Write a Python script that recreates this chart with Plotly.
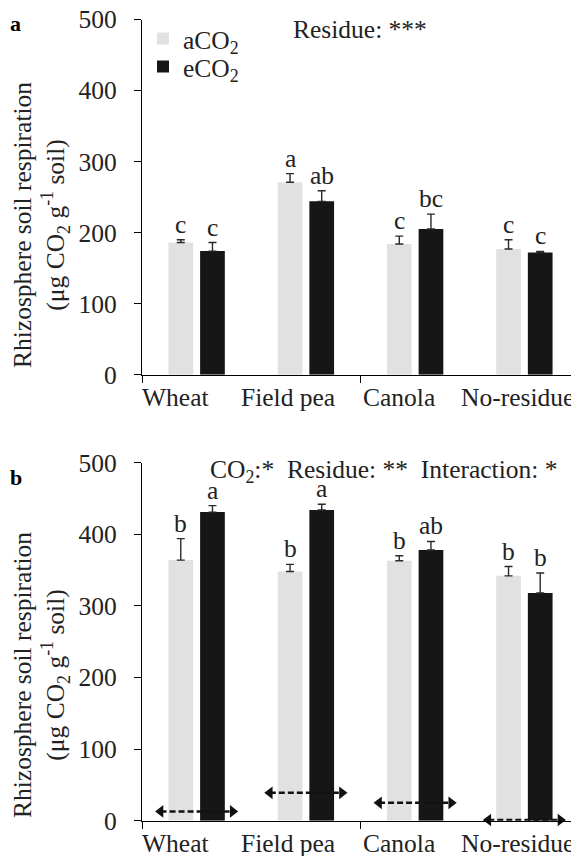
import plotly.graph_objects as go

categories = ["Wheat", "Field pea", "Canola", "No-residue"]
series_names = ["aCO<sub>2</sub>", "eCO<sub>2</sub>"]

# Panel a
a_aco2 = [186, 271, 184, 177]
a_aco2_err = [4, 12, 11, 13]
a_eco2 = [174, 244, 205, 172]
a_eco2_err = [12, 15, 21, 1.5]
a_aco2_letters = ["c", "a", "c", "c"]
a_eco2_letters = ["c", "ab", "bc", "c"]

# Panel b
b_aco2 = [364, 348, 363, 342]
b_aco2_err = [30, 10, 7, 13]
b_eco2 = [431, 434, 378, 318]
b_eco2_err = [9, 8, 12, 28]
b_aco2_letters = ["b", "b", "b", "b"]
b_eco2_letters = ["a", "a", "ab", "b"]
b_arrows = [13, 39, 25, 1]

y_ticks = [0, 100, 200, 300, 400, 500]

FONT = "Liberation Serif"
FS = 25.5
TXT = "#222222"
LIGHT = "#e1e1e1"
DARK = "#161616"
PAGE_OFF = 8            # default page body margin
W, H = 579 - PAGE_OFF, 856 - PAGE_OFF

def px(x):
    return (x - PAGE_OFF) / W

def py(y):
    return 1 - (y - PAGE_OFF) / H

BARGAP = 0.42
BARGROUPGAP = 0.22
slot = (1 - BARGAP) / 2
offs = [-slot / 2, slot / 2]
# horizontal placement of category labels relative to category centre (style)
label_shift = [-0.19, -0.16, -0.15, 0.0]

xpos = list(range(len(categories)))

fig = go.Figure()

def add_panel(xa, ya, aco2, aco2e, eco2, eco2e, show):
    for k, (vals, errs, col, name) in enumerate([(aco2, aco2e, LIGHT, series_names[0]),
                                                 (eco2, eco2e, DARK, series_names[1])]):
        fig.add_trace(go.Bar(
            x=xpos, y=vals, name=name, marker=dict(color=col, line=dict(width=0)),
            error_y=dict(type="data", array=errs, arrayminus=[0] * len(errs),
                         symmetric=False, color="#2a2a2a", thickness=1.4, width=4),
            xaxis=xa, yaxis=ya, showlegend=show,
            legend="legend" if k == 0 else "legend2"))

add_panel("x", "y", a_aco2, a_aco2_err, a_eco2, a_eco2_err, True)
add_panel("x2", "y2", b_aco2, b_aco2_err, b_eco2, b_eco2_err, False)

# dashed double arrows in panel b
for i, h in enumerate(b_arrows):
    fig.add_trace(go.Scatter(
        x=[i - 0.33, i + 0.33], y=[h, h], mode="lines+markers",
        line=dict(color="#111111", width=2.5, dash="6px,3px"),
        marker=dict(symbol=["triangle-left", "triangle-right"], size=11, color="#111111"),
        xaxis="x2", yaxis="y2", showlegend=False, hoverinfo="skip", cliponaxis=False))

x0, x1 = px(142), 1.0
dom_a = [py(374.7), py(19.5)]
dom_b = [py(820.7), py(462.7)]

xcommon = dict(range=[-0.5, 3.5], tickmode="array", tickvals=xpos,
               showticklabels=False, automargin=False,
               showline=True, linecolor="black", linewidth=1.2, ticks="",
               showgrid=False, zeroline=False, domain=[x0, x1], fixedrange=True)
ycommon = dict(range=[0, 500], tickmode="array", tickvals=y_ticks, showline=True,
               automargin=False, ticklabeloverflow="allow",
               linecolor="black", linewidth=1.2, ticks="outside", ticklen=7, tickcolor="black",
               showgrid=False, zeroline=False, tickfont=dict(family=FONT, size=FS, color=TXT),
               ticklabelstandoff=12)
tickaxis = dict(range=[-0.5, 3.5], tickmode="array", tickvals=[-0.5, 1.5, 3.5],
                ticks="outside", ticklen=7, tickcolor="black", showticklabels=False,
                automargin=False, linewidth=1.2,
                showline=False, showgrid=False, zeroline=False, domain=[x0, x1])

legfont = dict(family=FONT, size=FS, color=TXT)
fig.update_layout(
    template="none",
    width=W, height=H, margin=dict(l=0, r=0, t=0, b=0, autoexpand=False),
    paper_bgcolor="white", plot_bgcolor="rgba(0,0,0,0)",
    barmode="group", bargap=BARGAP, bargroupgap=BARGROUPGAP,
    xaxis=dict(**xcommon, anchor="y"),
    yaxis=dict(**ycommon, domain=dom_a, anchor="x"),
    xaxis2=dict(**xcommon, anchor="y2"),
    yaxis2=dict(**ycommon, domain=dom_b, anchor="x2"),
    xaxis3=dict(**tickaxis, overlaying="x", anchor="y"),
    xaxis4=dict(**tickaxis, overlaying="x2", anchor="y2"),
    legend=dict(x=px(143), y=py(39), xanchor="left", yanchor="middle",
                font=legfont, bgcolor="rgba(0,0,0,0)", itemwidth=30),
    legend2=dict(x=px(143), y=py(67), xanchor="left", yanchor="middle",
                 font=legfont, bgcolor="rgba(0,0,0,0)", itemwidth=30),
    showlegend=True,
)
# dummy traces so overlay tick axes render
fig.add_trace(go.Scatter(x=[None], y=[None], xaxis="x3", yaxis="y", showlegend=False))
fig.add_trace(go.Scatter(x=[None], y=[None], xaxis="x4", yaxis="y2", showlegend=False))

ann = []
def letters(xa, ya, vals, errs, labs, off):
    for i, (v, e, t) in enumerate(zip(vals, errs, labs)):
        ann.append(dict(x=i + off, y=v + e, xref=xa, yref=ya, text=t, showarrow=False,
                        xanchor="center", yanchor="bottom", yshift=-1,
                        font=dict(family=FONT, size=FS, color=TXT)))

letters("x", "y", a_aco2, a_aco2_err, a_aco2_letters, offs[0])
letters("x", "y", a_eco2, a_eco2_err, a_eco2_letters, offs[1])
letters("x2", "y2", b_aco2, b_aco2_err, b_aco2_letters, offs[0])
letters("x2", "y2", b_eco2, b_eco2_err, b_eco2_letters, offs[1])

# category labels
for xa, ya in [("x", "y"), ("x2", "y2")]:
    for i, c in enumerate(categories):
        last = i == len(categories) - 1
        ann.append(dict(x=(i + 0.5) if last else (i + label_shift[i]), y=0, xref=xa, yref=ya,
                        text=c, showarrow=False, xshift=-3 if last else 0,
                        xanchor="right" if last else "center", yanchor="top", yshift=-6,
                        font=dict(family=FONT, size=FS, color=TXT)))

ytitle = "Rhizosphere soil respiration<br>(μg CO<sub>2</sub> g<sup>-1</sup> soil)"
for yc in [py(225), py(675)]:
    ann.append(dict(x=px(41), y=yc, xref="paper", yref="paper", text=ytitle, textangle=-90,
                    showarrow=False, xanchor="center", yanchor="middle",
                    font=dict(family=FONT, size=FS, color=TXT)))

ann.append(dict(x=px(15), y=py(23), xref="paper", yref="paper", text="<b>a</b>",
                showarrow=False, xanchor="center", yanchor="middle",
                font=dict(family=FONT, size=22, color="black")))
ann.append(dict(x=px(16), y=py(477), xref="paper", yref="paper", text="<b>b</b>",
                showarrow=False, xanchor="center", yanchor="middle",
                font=dict(family=FONT, size=22, color="black")))
ann.append(dict(x=px(360), y=py(29), xref="paper", yref="paper", text="Residue: ***",
                showarrow=False, xanchor="center", yanchor="middle",
                font=dict(family=FONT, size=FS, color=TXT)))
ann.append(dict(x=px(384), y=py(471), xref="paper", yref="paper",
                text="CO<sub>2</sub>:*\u00a0\u00a0Residue: **\u00a0\u00a0Interaction: *",
                showarrow=False, xanchor="center", yanchor="middle",
                font=dict(family=FONT, size=FS, color=TXT)))

fig.update_layout(annotations=ann)
fig.write_html("out.html")
